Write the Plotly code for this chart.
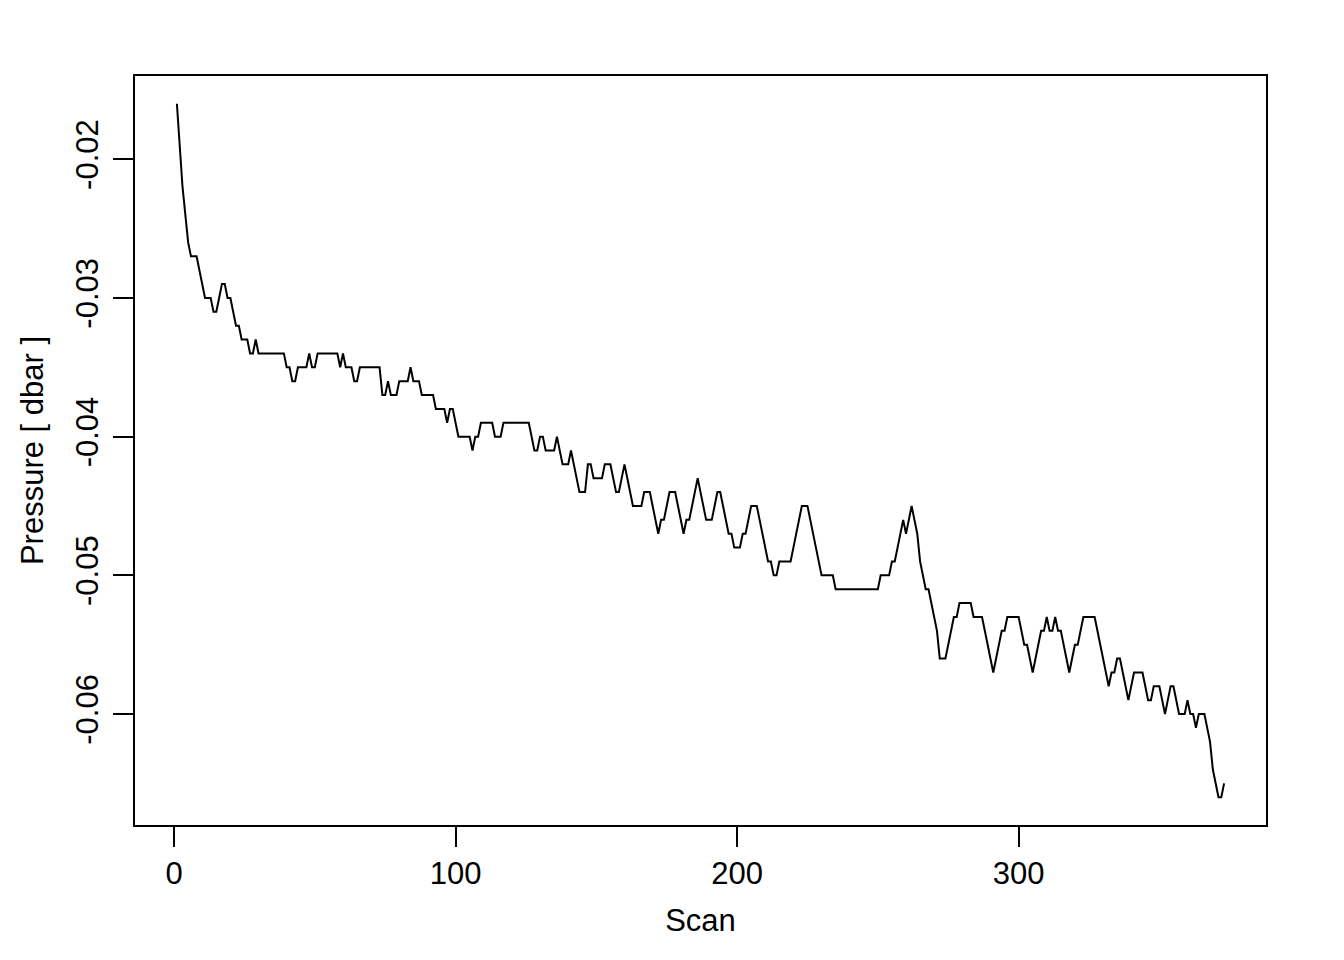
import plotly.graph_objects as go

# Scan index (1..373)
scan = list(range(1, 374))

# Pressure [dbar] (resolution 0.001 dbar)
pressure = [
    -0.016, -0.019, -0.022, -0.024, -0.026, -0.027, -0.027, -0.027, -0.028, -0.029,  # 1-10
    -0.030, -0.030, -0.030, -0.031, -0.031, -0.030, -0.029, -0.029, -0.030, -0.030,  # 11-20
    -0.031, -0.032, -0.032, -0.033, -0.033, -0.033, -0.034, -0.034, -0.033, -0.034,  # 21-30
    -0.034, -0.034, -0.034, -0.034, -0.034, -0.034, -0.034, -0.034, -0.034, -0.035,  # 31-40
    -0.035, -0.036, -0.036, -0.035, -0.035, -0.035, -0.035, -0.034, -0.035, -0.035,  # 41-50
    -0.034, -0.034, -0.034, -0.034, -0.034, -0.034, -0.034, -0.034, -0.035, -0.034,  # 51-60
    -0.035, -0.035, -0.035, -0.036, -0.036, -0.035, -0.035, -0.035, -0.035, -0.035,  # 61-70
    -0.035, -0.035, -0.035, -0.037, -0.037, -0.036, -0.037, -0.037, -0.037, -0.036,  # 71-80
    -0.036, -0.036, -0.036, -0.035, -0.036, -0.036, -0.036, -0.037, -0.037, -0.037,  # 81-90
    -0.037, -0.037, -0.038, -0.038, -0.038, -0.038, -0.039, -0.038, -0.038, -0.039,  # 91-100
    -0.040, -0.040, -0.040, -0.040, -0.040, -0.041, -0.040, -0.040, -0.039, -0.039,  # 101-110
    -0.039, -0.039, -0.039, -0.040, -0.040, -0.040, -0.039, -0.039, -0.039, -0.039,  # 111-120
    -0.039, -0.039, -0.039, -0.039, -0.039, -0.039, -0.040, -0.041, -0.041, -0.040,  # 121-130
    -0.040, -0.041, -0.041, -0.041, -0.041, -0.040, -0.041, -0.042, -0.042, -0.042,  # 131-140
    -0.041, -0.042, -0.043, -0.044, -0.044, -0.044, -0.042, -0.042, -0.043, -0.043,  # 141-150
    -0.043, -0.043, -0.042, -0.042, -0.042, -0.043, -0.044, -0.044, -0.043, -0.042,  # 151-160
    -0.043, -0.044, -0.045, -0.045, -0.045, -0.045, -0.044, -0.044, -0.044, -0.045,  # 161-170
    -0.046, -0.047, -0.046, -0.046, -0.045, -0.044, -0.044, -0.044, -0.045, -0.046,  # 171-180
    -0.047, -0.046, -0.046, -0.045, -0.044, -0.043, -0.044, -0.045, -0.046, -0.046,  # 181-190
    -0.046, -0.045, -0.044, -0.044, -0.045, -0.046, -0.047, -0.047, -0.048, -0.048,  # 191-200
    -0.048, -0.047, -0.047, -0.046, -0.045, -0.045, -0.045, -0.046, -0.047, -0.048,  # 201-210
    -0.049, -0.049, -0.050, -0.050, -0.049, -0.049, -0.049, -0.049, -0.049, -0.048,  # 211-220
    -0.047, -0.046, -0.045, -0.045, -0.045, -0.046, -0.047, -0.048, -0.049, -0.050,  # 221-230
    -0.050, -0.050, -0.050, -0.050, -0.051, -0.051, -0.051, -0.051, -0.051, -0.051,  # 231-240
    -0.051, -0.051, -0.051, -0.051, -0.051, -0.051, -0.051, -0.051, -0.051, -0.051,  # 241-250
    -0.050, -0.050, -0.050, -0.050, -0.049, -0.049, -0.048, -0.047, -0.046, -0.047,  # 251-260
    -0.046, -0.045, -0.046, -0.047, -0.049, -0.050, -0.051, -0.051, -0.052, -0.053,  # 261-270
    -0.054, -0.056, -0.056, -0.056, -0.055, -0.054, -0.053, -0.053, -0.052, -0.052,  # 271-280
    -0.052, -0.052, -0.052, -0.053, -0.053, -0.053, -0.053, -0.054, -0.055, -0.056,  # 281-290
    -0.057, -0.056, -0.055, -0.054, -0.054, -0.053, -0.053, -0.053, -0.053, -0.053,  # 291-300
    -0.054, -0.055, -0.055, -0.056, -0.057, -0.056, -0.055, -0.054, -0.054, -0.053,  # 301-310
    -0.054, -0.054, -0.053, -0.054, -0.054, -0.055, -0.056, -0.057, -0.056, -0.055,  # 311-320
    -0.055, -0.054, -0.053, -0.053, -0.053, -0.053, -0.053, -0.054, -0.055, -0.056,  # 321-330
    -0.057, -0.058, -0.057, -0.057, -0.056, -0.056, -0.057, -0.058, -0.059, -0.058,  # 331-340
    -0.057, -0.057, -0.057, -0.057, -0.058, -0.059, -0.059, -0.058, -0.058, -0.058,  # 341-350
    -0.059, -0.060, -0.059, -0.058, -0.058, -0.059, -0.060, -0.060, -0.060, -0.059,  # 351-360
    -0.060, -0.060, -0.061, -0.060, -0.060, -0.060, -0.061, -0.062, -0.064, -0.065,  # 361-370
    -0.066, -0.066, -0.065,                                                          # 371-373
]

x_ticks = [0, 100, 200, 300]
x_tick_labels = ["0", "100", "200", "300"]
y_ticks = [-0.06, -0.05, -0.04, -0.03, -0.02]
y_tick_labels = ["-0.06", "-0.05", "-0.04", "-0.03", "-0.02"]

x_title = "Scan"
y_title = "Pressure [ dbar ]"

FONT = "Liberation Sans, Arial, Helvetica, sans-serif"
FS = 31

# R-style 4% axis expansion
xr = max(scan) - min(scan)
x_range = [min(scan) - 0.04 * xr, max(scan) + 0.04 * xr]
yr = max(pressure) - min(pressure)
y_range = [min(pressure) - 0.04 * yr, max(pressure) + 0.04 * yr]

fig = go.Figure()
fig.add_trace(go.Scatter(
    x=scan, y=pressure, mode="lines",
    line=dict(color="black", width=2),
    showlegend=False, hoverinfo="x+y",
))

fig.update_layout(
    width=1344, height=960,
    margin=dict(l=127, r=86, t=68, b=143),
    paper_bgcolor="white", plot_bgcolor="white",
    font=dict(family=FONT, size=FS, color="black"),
)

fig.update_xaxes(
    range=x_range, tickmode="array", tickvals=x_ticks, ticktext=x_tick_labels,
    showgrid=False, zeroline=False,
    showline=True, linecolor="black", linewidth=2, mirror=True,
    ticks="outside", ticklen=20, tickwidth=2, tickcolor="black",
    tickfont=dict(family=FONT, size=FS, color="black"),
    ticklabelstandoff=0,
    title=dict(text=x_title, font=dict(family=FONT, size=FS, color="black"), standoff=19),
)
fig.update_yaxes(
    range=y_range, tickmode="array", tickvals=y_ticks, ticktext=y_tick_labels,
    showgrid=False, zeroline=False,
    showline=True, linecolor="black", linewidth=2, mirror=True,
    ticks="outside", ticklen=20, tickwidth=2, tickcolor="black",
    tickangle=-90,
    tickfont=dict(family=FONT, size=FS, color="black"),
    ticklabelstandoff=3,
    title=dict(text=y_title, font=dict(family=FONT, size=FS, color="black"), standoff=17),
)

fig.write_html("out.html")
